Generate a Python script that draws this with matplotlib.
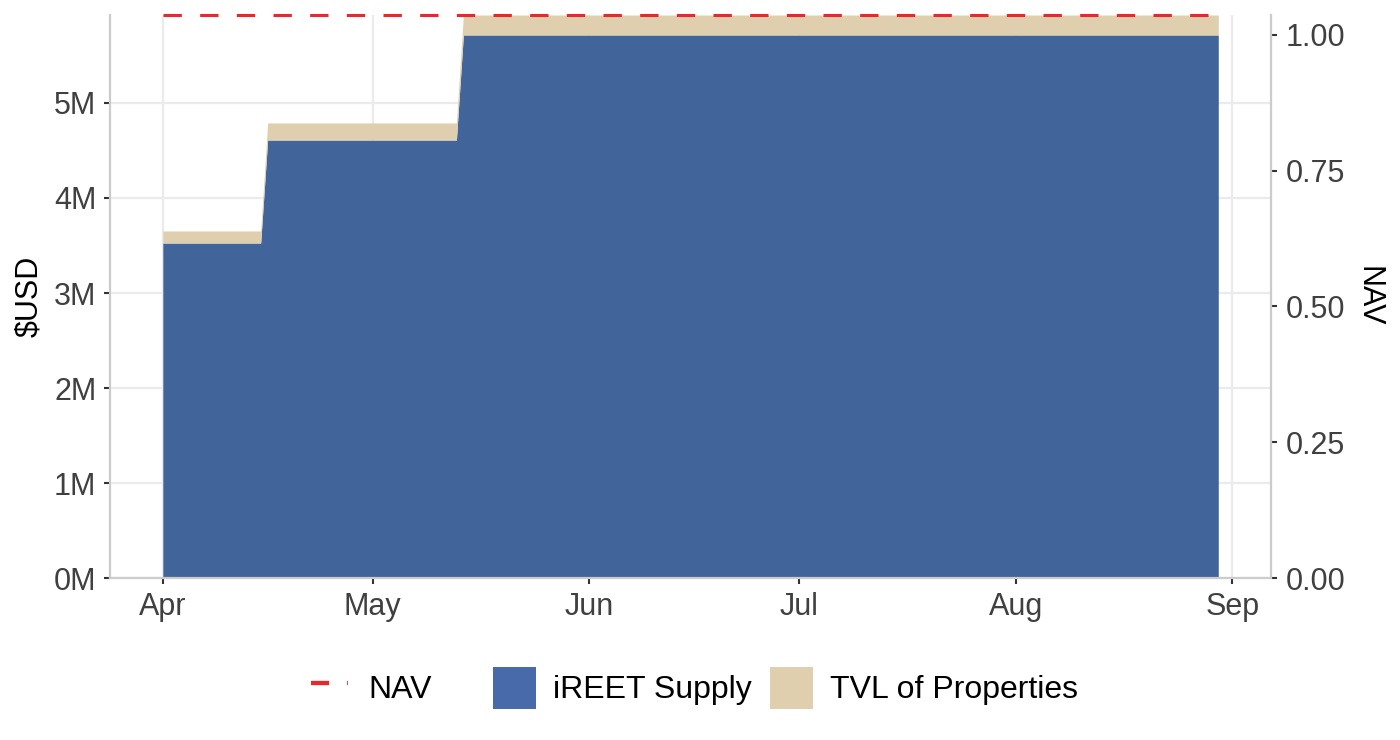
#!/usr/bin/env python3
'''Stacked iREET supply / TVL with NAV on a second axis'''
import matplotlib
matplotlib.use('Agg')
import matplotlib.pyplot as plt
import matplotlib.dates as mdates
from matplotlib.lines import Line2D
from matplotlib.patches import Patch
from matplotlib.ticker import FuncFormatter
import numpy as np
import pandas as pd

plt.rcParams['font.family'] = ['Liberation Sans', 'DejaVu Sans']

# break points of the daily series (values in $USD)
dates = pd.to_datetime(['2023-04-01', '2023-04-15', '2023-04-16',
                        '2023-05-13', '2023-05-14', '2023-08-30'])
ireet_supply = [3.526e6, 3.526e6, 4.610e6, 4.610e6, 5.716e6, 5.716e6]
tvl_properties = [0.127e6, 0.127e6, 0.180e6, 0.180e6, 0.210e6, 0.210e6]
nav = [1.037, 1.037, 1.037, 1.037, 1.037, 1.037]
nav_scale = 5.716e6   # $USD that maps to NAV = 1.00
month_ticks = pd.to_datetime(['2023-04-01', '2023-05-01', '2023-06-01',
                              '2023-07-01', '2023-08-01', '2023-09-01'])

BLUE = '#41649b'
BLUE_KEY = '#4869aa'
TAN = '#dfcfae'
RED = '#e8282b'
GRID = '#ebebeb'
SPINE = '#cccccc'
TXT = '#404040'
FS = 22
LFS = 23

fig = plt.figure(figsize=(14, 7.4), dpi=100)
ax = fig.add_axes([0.0786, 0.2189, 0.8293, 0.7608])

supply = np.array(ireet_supply)
top = supply + np.array(tvl_properties)
ax.fill_between(dates, 0, supply, color=BLUE, lw=0, zorder=2)
ax.fill_between(dates, supply, top, color=TAN, lw=0, zorder=2)

span = dates[-1] - dates[0]
ax.set_xlim(dates[0] - span * 0.05, dates[-1] + span * 0.05)
ymax = top.max()
ax.set_ylim(0, ymax)

ax.set_xticks(month_ticks)
ax.xaxis.set_major_formatter(mdates.DateFormatter('%b'))
ax.set_yticks(np.arange(0, 6e6, 1e6))
ax.yaxis.set_major_formatter(FuncFormatter(lambda v, p: '%dM' % round(v / 1e6)))
ax.grid(True, color=GRID, lw=1.6, zorder=0)
ax.set_axisbelow(True)
ax.set_ylabel('$USD', fontsize=FS, color='black', labelpad=7)

ax2 = ax.twinx()
ax2.set_ylim(0, ymax / nav_scale)
ax2.set_yticks([0, 0.25, 0.5, 0.75, 1.0])
ax2.yaxis.set_major_formatter(FuncFormatter(lambda v, p: '%.2f' % v))
nav_line, = ax2.plot(dates, nav, color=RED, lw=2.2, clip_on=False, zorder=3)
nav_line.set_dashes([6, 6])
ax2.set_ylabel('NAV', fontsize=FS, color='black', rotation=-90, labelpad=27)

for a in (ax, ax2):
    for s in a.spines.values():
        s.set_color(SPINE)
        s.set_linewidth(1.6)
    a.spines['top'].set_visible(False)
    a.tick_params(labelsize=FS, labelcolor=TXT, color='#333333',
                  length=4.3, width=1.5, pad=5.5)
ax.spines['right'].set_visible(False)
ax2.spines['left'].set_visible(False)
ax2.spines['bottom'].set_visible(False)
ax2.tick_params(axis='y', pad=6.5)

# two guides, as in the source: line (NAV) and fill (supply / TVL)
key_line = Line2D([], [], color=RED, lw=3.1)
key_line.set_dashes([4.2, 4.2])
fig.legend([key_line], ['NAV'], loc='center left',
           bbox_to_anchor=(311 / 1400, 0.0703), frameon=False, fontsize=LFS,
           handlelength=1.16, handleheight=1.65, handletextpad=0.63,
           borderpad=0, borderaxespad=0)
fig.legend([Patch(color=BLUE_KEY, lw=0), Patch(color=TAN, lw=0)],
           ['iREET Supply', 'TVL of Properties'], loc='center left',
           bbox_to_anchor=(493 / 1400, 0.0703), ncol=2, frameon=False,
           fontsize=LFS, handlelength=1.35, handleheight=1.65,
           handletextpad=0.53, columnspacing=0.56, borderpad=0,
           borderaxespad=0)

fig.savefig('out.png', dpi=100)
